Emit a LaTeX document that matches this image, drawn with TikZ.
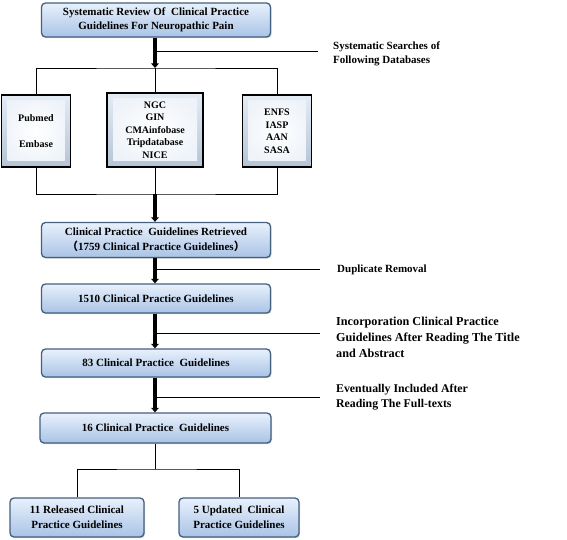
\documentclass[tikz,border=0pt]{standalone}
\usepackage{fontspec}
\setmainfont{Liberation Serif}
\newfontfamily\cjk{Noto Sans CJK SC}
\usetikzlibrary{arrows.meta,shadows}
\definecolor{bborder}{HTML}{44607F}
\definecolor{btop}{HTML}{E8F1FC}
\definecolor{bbot}{HTML}{A9C3E6}
\definecolor{sqtop}{HTML}{E4ECF5}
\definecolor{sqbot}{HTML}{B4C4D6}
\definecolor{sqin}{HTML}{EEF3F9}
\tikzset{
  bluebox/.style={draw=bborder, line width=1.3pt, rounded corners=4pt,
    top color=btop, bottom color=bbot, align=center, inner sep=0pt,
    font=\fontsize{11}{13.5}\selectfont\bfseries,
    drop shadow={shadow xshift=1pt, shadow yshift=-1.2pt, opacity=0.35}},
  sqbox/.style={draw=black, line width=1.8pt, top color=sqtop, bottom color=sqbot,
    align=center, inner sep=0pt, font=\fontsize{10}{12.5}\selectfont\bfseries,
    path picture={\shade[inner color=white, outer color=sqin]
      ([shift={(6pt,-6pt)}]path picture bounding box.north west) rectangle
      ([shift={(-6pt,6pt)}]path picture bounding box.south east);}},
  thin/.style={draw=black, line width=0.9pt},
  thick/.style={draw=black, line width=3.6pt},
  tip/.style={-{Triangle[width=7.5pt,length=4.5pt]}},
  sidelabel/.style={anchor=west, align=left, inner sep=0pt},
}
\begin{document}
\begin{tikzpicture}[x=1pt,y=-1pt]
\useasboundingbox (0,0) rectangle (567,540);
% main boxes
\node[bluebox, minimum width=229pt, minimum height=34pt] (title) at (156,20)
  {Systematic Review Of\ \ Clinical Practice\\Guidelines For Neuropathic Pain};
\node[sqbox, minimum width=69pt, minimum height=72pt] (pub) at (36,131)
  {Pubmed\\[14pt]Embase};
\node[sqbox, minimum width=96pt, minimum height=74pt] (mid) at (155,130)
  {NGC\\GIN\\CMAinfobase\\Tripdatabase\\NICE};
\node[sqbox, minimum width=69pt, minimum height=72pt] (rgt) at (277,131)
  {ENFS\\IASP\\AAN\\SASA};
\node[bluebox, minimum width=229pt, minimum height=35pt, font=\fontsize{11}{15}\selectfont\bfseries] (ret) at (156,240)
  {Clinical Practice\ \ Guidelines Retrieved\\{\cjk （}1759 Clinical Practice Guidelines{\cjk ）}};
\node[bluebox, minimum width=229pt, minimum height=29pt] (b1510) at (156,298.5)
  {1510 Clinical Practice Guidelines};
\node[bluebox, minimum width=229pt, minimum height=28pt] (b83) at (156,363)
  {83 Clinical Practice\ \ Guidelines};
\node[bluebox, minimum width=231pt, minimum height=30pt] (b16) at (155.5,428)
  {16 Clinical Practice\ \ Guidelines};
\node[bluebox, minimum width=134pt, minimum height=39pt, font=\fontsize{11}{15}\selectfont\bfseries] (b11) at (77,517.5)
  {11 Released Clinical\\Practice Guidelines};
\node[bluebox, minimum width=120pt, minimum height=39pt, font=\fontsize{11}{15}\selectfont\bfseries] (b5) at (239,517.5)
  {5 Updated\ \ Clinical\\Practice Guidelines};
% bar coordinates
\coordinate (bar1) at (155,68);
\coordinate (bar2) at (155,194);
\coordinate (bar3) at (155,469);
% top section
\draw[thick, tip] (title.south -| bar1) -- (bar1);
\draw[thin] (pub.north) |- (bar1) -| (rgt.north);
\draw[thin] (bar1) -- (mid.north);
\draw[thin] (pub.south) |- (bar2) -| (rgt.south);
\draw[thin] (mid.south) -- (bar2);
\draw[thick, tip] (bar2) -- (ret.north -| bar2);
\draw[thick, tip] (ret.south -| bar2) -- (b1510.north -| bar2);
\draw[thick, tip] (b1510.south -| bar2) -- (b83.north -| bar2);
\draw[thick, tip] (b83.south -| bar2) -- (b16.north -| bar2);
\draw[thin] (b16.south -| bar3) -- (bar3);
\draw[thin] (b11.north) |- (bar3) -| (b5.north);
% side branches
\coordinate (s1) at (155,51);   \coordinate (e1) at (318,51);
\coordinate (s2) at (155,269);  \coordinate (e2) at (320,269);
\coordinate (s3) at (155,333);  \coordinate (e3) at (320,333);
\coordinate (s4) at (155,397);  \coordinate (e4) at (320,397);
\draw[thin] (s1) -- (e1);
\draw[thin] (s2) -- (e2);
\draw[thin] (s3) -- (e3);
\draw[thin] (s4) -- (e4);
\node[sidelabel, font=\fontsize{11}{14}\selectfont\bfseries] (l1) at (333,54)
  {Systematic Searches of\\Following Databases};
\node[sidelabel, font=\fontsize{11}{14}\selectfont\bfseries] (l2) at (337,270)
  {Duplicate Removal};
\node[sidelabel, font=\fontsize{12.2}{16}\selectfont\bfseries] (l3) at (336,337)
  {Incorporation Clinical Practice\\Guidelines After Reading The Title\\and Abstract};
\node[sidelabel, font=\fontsize{11.8}{15}\selectfont\bfseries] (l4) at (336,397)
  {Eventually Included After\\Reading The Full-texts};
\end{tikzpicture}
\end{document}
